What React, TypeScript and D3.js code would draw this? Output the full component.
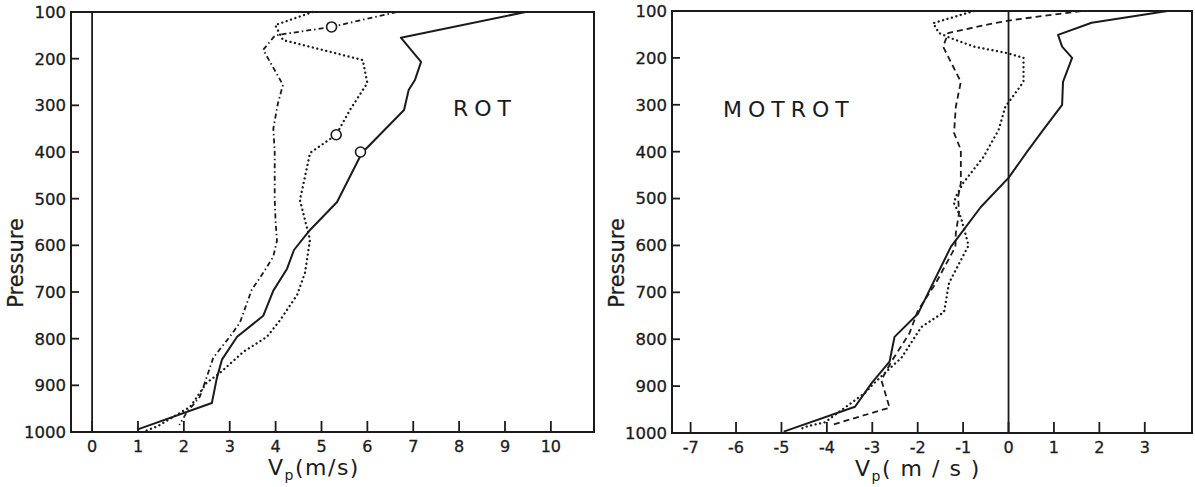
import React, { useRef, useEffect } from 'react';
import * as d3 from 'd3';

// axis ticks
const pressureTicks = [100, 200, 300, 400, 500, 600, 700, 800, 900, 1000];
const rotTicks = [0, 1, 2, 3, 4, 5, 6, 7, 8, 9, 10];
const motrotTicks = [-7, -6, -5, -4, -3, -2, -1, 0, 1, 2, 3];

// ROT panel
const rotSolidP = [100, 155, 207, 245, 267, 310, 402, 507, 567, 610, 650, 697, 751, 796, 845, 884, 938, 995];
const rotSolidV = [9.45, 6.73, 7.17, 7.04, 6.9, 6.8, 5.88, 5.34, 4.75, 4.4, 4.25, 3.95, 3.73, 3.16, 2.83, 2.72, 2.61, 0.98];

const rotDashP = [100, 132, 150, 181, 256, 296, 350, 400, 450, 500, 550, 590, 624, 659, 695, 766, 796, 841, 882, 924, 960, 985];
const rotDashV = [6.64, 5.22, 3.99, 3.73, 4.16, 4.05, 3.95, 3.98, 3.98, 3.98, 4.0, 4.03, 3.95, 3.73, 3.48, 3.22, 3.0, 2.64, 2.5, 2.35, 2.05, 1.9];

const rotDotP = [100, 128, 160, 203, 252, 310, 363, 402, 503, 588, 659, 706, 760, 796, 828, 873, 894, 946, 988, 1000];
const rotDotV = [4.81, 3.99, 4.16, 5.9, 6.0, 5.62, 5.32, 4.75, 4.53, 4.75, 4.64, 4.47, 4.1, 3.81, 3.3, 2.79, 2.5, 2.14, 1.42, 1.1];

const rotCircleP = [132, 363, 400];
const rotCircleV = [5.22, 5.32, 5.85];

// MOTROT panel
const motSolidP = [100, 125, 151, 176, 200, 251, 300, 354, 400, 456, 518, 603, 723, 745, 795, 848, 893, 944, 997];
const motSolidV = [3.5, 1.83, 1.09, 1.18, 1.4, 1.2, 1.18, 0.76, 0.41, 0.0, -0.61, -1.27, -1.88, -1.99, -2.51, -2.62, -3.01, -3.38, -4.95];

const motDashP = [100, 119, 126, 147, 176, 251, 304, 360, 396, 467, 496, 531, 573, 603, 680, 738, 787, 848, 887, 946, 983];
const motDashV = [1.6, 0.1, -0.33, -1.33, -1.44, -1.05, -1.16, -1.2, -1.05, -1.05, -1.11, -1.09, -1.16, -1.17, -1.6, -1.99, -2.18, -2.58, -2.8, -2.62, -3.9];

const motDotP = [100, 126, 147, 158, 176, 190, 200, 251, 283, 304, 354, 411, 467, 496, 510, 540, 575, 600, 680, 742, 774, 840, 859, 893, 915, 977, 987, 993];
const motDotV = [-0.76, -1.66, -1.53, -1.27, -0.76, -0.02, 0.33, 0.33, 0.09, -0.07, -0.22, -0.55, -1.0, -1.16, -1.2, -1.05, -0.95, -0.88, -1.31, -1.42, -1.92, -2.36, -2.58, -2.95, -3.17, -4.04, -4.48, -4.6];

const ink = "#1b1b1b";
const font = "'DejaVu Sans', sans-serif";

type Series = { p: number[]; v: number[]; dash: string | null; width: number; cap?: string };

interface PanelOpts {
  xDomain: [number, number];
  xRange: [number, number];
  yRange: [number, number];
  xTicks: number[];
  series: Series[];
  circlesP?: number[];
  circlesV?: number[];
  label: string;
  labelX: number;
  labelY: number;
  unit: string;
  titleX: number;
}

function drawPanel(svg: d3.Selection<SVGSVGElement, unknown, null, undefined>, o: PanelOpts) {
  const x = d3.scaleLinear().domain(o.xDomain).range(o.xRange);
  const y = d3.scaleLinear().domain([100, 1000]).range(o.yRange);
  const g = svg.append("g");
  const [x0, x1] = o.xRange;
  const [y0, y1] = o.yRange;

  // curves
  o.series.forEach((s) => {
    const pts = s.p.map((p, i) => [s.v[i], p] as [number, number]);
    const line = d3.line<[number, number]>()
      .x((d) => x(d[0]))
      .y((d) => y(d[1]));
    g.append("path")
      .datum(pts)
      .attr("fill", "none")
      .attr("stroke", ink)
      .attr("stroke-width", s.width)
      .attr("stroke-linejoin", "round")
      .attr("stroke-linecap", s.cap || "butt")
      .attr("stroke-dasharray", s.dash)
      .attr("d", line);
  });

  // open circles
  if (o.circlesP && o.circlesV) {
    o.circlesP.forEach((p, i) => {
      g.append("circle")
        .attr("cx", x(o.circlesV![i]))
        .attr("cy", y(p))
        .attr("r", 5)
        .attr("fill", "white")
        .attr("stroke", ink)
        .attr("stroke-width", 1.6);
    });
  }

  // zero line
  g.append("line")
    .attr("x1", x(0)).attr("x2", x(0))
    .attr("y1", y0).attr("y2", y1)
    .attr("stroke", ink).attr("stroke-width", 1.8);

  // frame
  g.append("rect")
    .attr("x", x0).attr("y", y0)
    .attr("width", x1 - x0).attr("height", y1 - y0)
    .attr("fill", "none")
    .attr("stroke", ink)
    .attr("stroke-width", 2);

  // y ticks + labels
  pressureTicks.forEach((p) => {
    g.append("line")
      .attr("x1", x0).attr("x2", x0 + 8)
      .attr("y1", y(p)).attr("y2", y(p))
      .attr("stroke", ink).attr("stroke-width", 1.8);
    g.append("text")
      .attr("x", x0 - 5).attr("y", y(p)).attr("dy", "0.36em")
      .attr("text-anchor", "end")
      .style("font-family", font).style("font-size", "16.5px")
      .style("fill", ink).style("stroke", ink).style("stroke-width", 0.3)
      .text(p);
  });

  // x ticks + labels
  o.xTicks.forEach((t) => {
    g.append("line")
      .attr("x1", x(t)).attr("x2", x(t))
      .attr("y1", y1).attr("y2", y1 - 11)
      .attr("stroke", ink).attr("stroke-width", 1.8);
    g.append("text")
      .attr("x", x(t)).attr("y", y1 + 20)
      .attr("text-anchor", "middle")
      .style("font-family", font).style("font-size", "16px")
      .style("fill", ink).style("stroke", ink).style("stroke-width", 0.3)
      .text(t < 0 ? "-" + Math.abs(t) : String(t));
  });

  // axis titles
  const title = g.append("text")
    .attr("x", o.titleX).attr("y", y1 + 43)
    .attr("text-anchor", "middle")
    .style("font-family", font).style("font-size", "22px")
    .style("letter-spacing", "1.5px")
    .style("fill", ink);
  title.append("tspan").text("V");
  title.append("tspan").attr("dy", 5).style("font-size", "14px").text("p");
  title.append("tspan").attr("dy", -5).text(o.unit);

  g.append("text")
    .attr("transform", `translate(${x0 - 48},263) rotate(-90)`)
    .attr("text-anchor", "middle")
    .style("font-family", font).style("font-size", "21px")
    .style("fill", ink).style("stroke", ink).style("stroke-width", 0.3)
    .text("Pressure");

  g.append("text")
    .attr("x", o.labelX).attr("y", o.labelY)
    .style("font-family", font).style("font-size", "22px")
    .style("letter-spacing", "6px")
    .style("fill", ink)
    .text(o.label);
}

export default function App() {
  const svgRef = useRef<SVGSVGElement>(null);

  useEffect(() => {
    if (!svgRef.current) return;
    const svg = d3.select(svgRef.current);
    svg.selectAll("*").remove();

    drawPanel(svg, {
      xDomain: [-0.46, 10.94],
      xRange: [71, 594],
      yRange: [12, 432],
      xTicks: rotTicks,
      series: [
        { p: rotSolidP, v: rotSolidV, dash: null, width: 2 },
        { p: rotDashP, v: rotDashV, dash: "5,3,1.5,3", width: 1.8 },
        { p: rotDotP, v: rotDotV, dash: "0.1,4.5", width: 2.3, cap: "round" },
      ],
      circlesP: rotCircleP,
      circlesV: rotCircleV,
      label: "ROT",
      labelX: 453,
      labelY: 116,
      unit: "(m/s)",
      titleX: 314,
    });

    drawPanel(svg, {
      xDomain: [-7.41, 4.04],
      xRange: [672, 1192],
      yRange: [11, 433],
      xTicks: motrotTicks,
      series: [
        { p: motSolidP, v: motSolidV, dash: null, width: 2 },
        { p: motDashP, v: motDashV, dash: "6,4", width: 1.8 },
        { p: motDotP, v: motDotV, dash: "0.1,4.5", width: 2.3, cap: "round" },
      ],
      label: "MOTROT",
      labelX: 723,
      labelY: 117,
      unit: "( m / s )",
      titleX: 918,
    });
  }, []);

  return (
    <svg
      ref={svgRef}
      width={1195}
      height={487}
      style={{ position: "absolute", left: 0, top: 0, background: "white" }}
    />
  );
}
